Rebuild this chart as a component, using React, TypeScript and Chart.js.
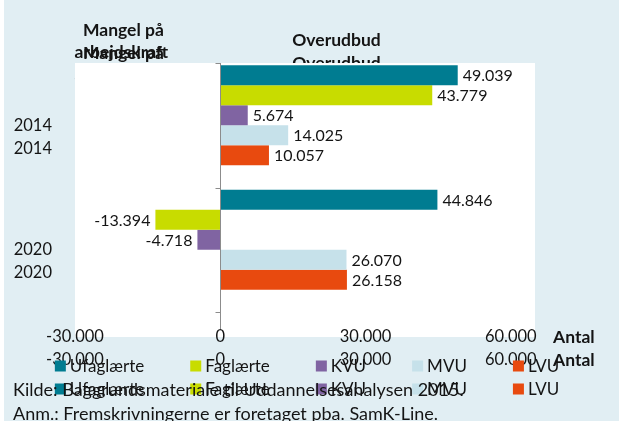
import React, { useEffect, useRef } from 'react';
import { Chart, registerables } from 'chart.js';

Chart.register(...registerables);

// ---- data ----
const categories = ['2014', '2020'];
const seriesNames = ['Ufaglærte', 'Faglærte', 'KVU', 'MVU', 'LVU'];
const ufaglaerte = [49039, 44846];
const faglaerte = [43779, -13394];
const kvu = [5674, -4718];
const mvu = [14025, 26070];
const lvu = [10057, 26158];
const seriesColors = ['#007c91', '#c8dc00', '#8064a2', '#c6e1ea', '#e84a0f'];
const xTickValues = [-30000, 0, 30000, 60000];
const xMin = -30000;
const xMax = 65000;
const leftTitle = ['Mangel på', 'arbejdskraft'];
const rightTitle = 'Overudbud';
const axisUnit = 'Antal';
const sourceNote = 'Kilde: Baggrundsmateriale til Uddannelsesanalysen 2015.';
const remarkNote = 'Anm.: Fremskrivningerne er foretaget pba. SamK-Line.';

const FONT = 'Lato, "Open Sans", sans-serif';
const TEXT = '#141414';

function fmt(v: number): string {
  const s = Math.abs(Math.round(v)).toString().replace(/\B(?=(\d{3})+(?!\d))/g, '.');
  return (v < 0 ? '-' : '') + s;
}

const decorPlugin = {
  id: 'excelDecor',
  beforeDraw(chart: any, _args: any, opts: any) {
    if (opts.ghost) return;
    const { ctx, chartArea } = chart;
    ctx.save();
    ctx.fillStyle = '#ffffff';
    ctx.fillRect(chartArea.left, chartArea.top, chartArea.right - chartArea.left, chartArea.bottom - chartArea.top + 25);
    ctx.restore();
  },
  afterDatasetsDraw(chart: any, _args: any, opts: any) {
    const { ctx, chartArea } = chart;
    const xs = chart.scales.x;
    const ys = chart.scales.y;
    ctx.save();
    // value labels
    ctx.font = `16px ${FONT}`;
    ctx.fillStyle = TEXT;
    ctx.textBaseline = 'middle';
    chart.data.datasets.forEach((ds: any, di: number) => {
      const meta = chart.getDatasetMeta(di);
      meta.data.forEach((el: any, i: number) => {
        const v = ds.data[i];
        if (v === null || v === undefined) return;
        if (v >= 0) {
          ctx.textAlign = 'left';
          ctx.fillText(fmt(v), el.x + 5, el.y + 1);
        } else {
          ctx.textAlign = 'right';
          ctx.fillText(fmt(v), el.x - 5, el.y + 1);
        }
      });
    });
    if (!opts.ghost) {
      // zero axis line with category tick marks
      const zx = Math.round(xs.getPixelForValue(0)) + 0.5;
      ctx.strokeStyle = '#8c8c8c';
      ctx.lineWidth = 1;
      ctx.beginPath();
      ctx.moveTo(zx, chartArea.top);
      ctx.lineTo(zx, chartArea.bottom + 17);
      ctx.stroke();
      const p0 = ys.getPixelForValue(0);
      const step = ys.getPixelForValue(1) - p0;
      for (let i = 0; i <= categories.length; i++) {
        const y = Math.round(p0 + (i - 0.5) * step) + 0.5;
        ctx.beginPath();
        ctx.moveTo(zx - 5, y);
        ctx.lineTo(zx, y);
        ctx.stroke();
      }
    }
    ctx.restore();
  },
  afterDraw(chart: any) {
    const { ctx, chartArea } = chart;
    const xs = chart.scales.x;
    ctx.save();
    ctx.fillStyle = TEXT;
    ctx.textBaseline = 'middle';
    ctx.font = `bold 17.5px ${FONT}`;
    ctx.textAlign = 'center';
    const lx = xs.getPixelForValue(-20000);
    ctx.fillText(leftTitle[0], lx, chartArea.top - 33);
    ctx.fillText(leftTitle[1], lx - 2, chartArea.top - 11);
    ctx.fillText(rightTitle, xs.getPixelForValue(24000), chartArea.top - 23);
    ctx.textAlign = 'left';
    ctx.fillText(axisUnit, chartArea.right + 18, chartArea.bottom + 25);

    // legend
    ctx.font = `17px ${FONT}`;
    const box = 11;
    const gapBoxText = 4;
    const gapItems = 46;
    const widths = seriesNames.map((n) => box + gapBoxText + ctx.measureText(n).width);
    const total = widths.reduce((a, b) => a + b, 0) + gapItems * (seriesNames.length - 1);
    let x = (chartArea.left + chartArea.right) / 2 - total / 2 + 2;
    const ly = chartArea.bottom + 54;
    seriesNames.forEach((n, i) => {
      ctx.fillStyle = seriesColors[i];
      ctx.fillRect(x, ly - box / 2, box, box);
      ctx.fillStyle = TEXT;
      ctx.fillText(n, x + box + gapBoxText, ly + 1);
      x += widths[i] + gapItems;
    });
    ctx.restore();
  },
};

function makeConfig(ghost: boolean): any {
  const series = [ufaglaerte, faglaerte, kvu, mvu, lvu];
  const datasets: any[] = series.map((d, i) => ({
    label: seriesNames[i],
    data: d,
    backgroundColor: seriesColors[i],
    borderWidth: 0,
  }));
  // empty sixth slot (Excel keeps a gap slot after the last series)
  datasets.push({ label: '', data: categories.map(() => null), backgroundColor: 'transparent' });
  return {
    type: 'bar',
    data: { labels: categories, datasets },
    plugins: [decorPlugin],
    options: {
      indexAxis: 'y',
      animation: false,
      responsive: false,
      maintainAspectRatio: false,
      events: [],
      categoryPercentage: 0.964,
      barPercentage: 1,
      layout: { padding: { left: 12, right: 84, top: 63, bottom: 76 } },
      plugins: {
        legend: { display: false },
        tooltip: { enabled: false },
        excelDecor: { ghost },
      },
      scales: {
        x: {
          type: 'linear',
          min: xMin,
          max: xMax,
          afterBuildTicks: (s: any) => {
            s.ticks = xTickValues.map((v) => ({ value: v }));
          },
          afterFit: (s: any) => {
            s.height = 33;
          },
          grid: { display: false, drawTicks: false },
          border: { display: false },
          ticks: {
            padding: 15,
            color: TEXT,
            font: { family: FONT, size: 16.5 },
            maxRotation: 0,
            autoSkip: false,
            callback: (v: any) => fmt(Number(v)),
          },
        },
        y: {
          type: 'category',
          afterFit: (s: any) => {
            s.width = 63;
          },
          grid: { display: false, drawTicks: false },
          border: { display: false },
          ticks: {
            padding: 23,
            color: TEXT,
            font: { family: FONT, size: 16.5 },
          },
        },
      },
    },
  };
}

function ChartCanvas({ ghost, top }: { ghost: boolean; top: number }) {
  const ref = useRef<HTMLCanvasElement | null>(null);
  useEffect(() => {
    if (!ref.current) return;
    const chart = new Chart(ref.current, makeConfig(ghost));
    return () => chart.destroy();
  }, [ghost]);
  return (
    <canvas
      ref={ref}
      width={619}
      height={421}
      style={{ position: 'absolute', left: 0, top, width: 619, height: 421 }}
    />
  );
}

const noteStyle: React.CSSProperties = {
  position: 'absolute',
  left: 13,
  fontFamily: FONT,
  fontSize: 18,
  lineHeight: '20px',
  color: TEXT,
  whiteSpace: 'nowrap',
};

export default function App() {
  return (
    <div
      style={{
        position: 'fixed',
        left: 0,
        top: 0,
        width: 619,
        height: 421,
        overflow: 'hidden',
        background: '#ffffff',
      }}
    >
      <div style={{ position: 'absolute', left: 4, top: 0, right: 0, bottom: 0, background: '#e1eef3' }} />
      <ChartCanvas ghost={true} top={23} />
      <ChartCanvas ghost={false} top={0} />
      <div style={{ ...noteStyle, top: 379 }}>{sourceNote}</div>
      <div style={{ ...noteStyle, top: 403 }}>{remarkNote}</div>
    </div>
  );
}
